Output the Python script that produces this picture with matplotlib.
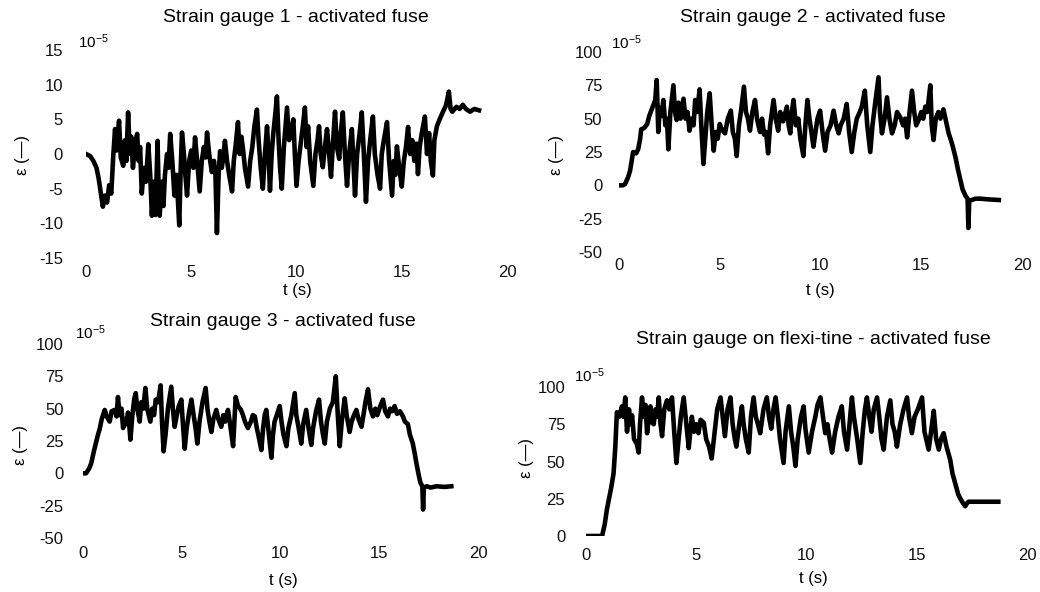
import matplotlib.pyplot as plt

plt.rcParams['font.family'] = ['Liberation Sans', 'DejaVu Sans']
plt.rcParams['axes.unicode_minus'] = False
plt.rcParams['mathtext.fontset'] = 'custom'
plt.rcParams['mathtext.rm'] = 'Liberation Sans'

# (t in s, strain in 1e-5)
gauge1 = [(0, 0), (0.2, -0.3), (0.35, -1), (0.5, -2), (0.6, -3.5), (0.7, -5.5), (0.8, -7.6),
          (0.9, -6), (1.0, -7), (1.1, -4.5), (1.2, -5.7), (1.3, 0), (1.38, 3.6), (1.45, 0.5),
          (1.57, 4.8), (1.65, -0.5), (1.77, -1.7), (1.85, 2), (1.92, -1), (2.0, 6), (2.08, 0),
          (2.15, 2.5), (2.23, -2), (2.33, 1.5), (2.43, 2.9), (2.5, -1), (2.57, 1), (2.65, -5.7),
          (2.75, -2), (2.85, -4), (2.96, 1.4), (3.05, -3), (3.13, -8.9), (3.22, -4), (3.3, -8.8),
          (3.4, 1.9), (3.45, -5), (3.5, -8.9), (3.6, -4), (3.68, -7.5), (3.75, -3), (3.85, 0),
          (3.92, -2), (4.0, 2.9), (4.1, -1), (4.2, -6), (4.3, -3), (4.43, -10.3), (4.5, -2),
          (4.56, 3.1), (4.65, 0), (4.72, -3), (4.8, -6), (4.9, -1), (5.0, 0.5), (5.1, -2),
          (5.18, 2.4), (5.28, -1), (5.4, -5.4), (5.5, -1), (5.6, 1), (5.68, -0.5), (5.75, 3.1),
          (5.85, 0), (5.98, -2.6), (6.08, -1), (6.15, -3), (6.22, -11.4), (6.3, -3), (6.37, 0.4),
          (6.45, -2), (6.52, -0.5), (6.6, 1.9), (6.7, -1), (6.8, -3), (6.94, -5.4), (7.02, -1),
          (7.1, 1), (7.22, 4.6), (7.3, 0), (7.38, 2.5), (7.46, 0.7), (7.55, -2), (7.7, -4.7),
          (7.8, -1), (7.9, 1.0), (8.0, 4), (8.12, 6.4), (8.2, 2), (8.3, -2), (8.4, -5), (8.5, 0),
          (8.6, 4), (8.67, 0), (8.74, -5.3), (8.82, 0), (8.9, 3), (9.0, 6), (9.07, 8.3), (9.15, 2),
          (9.22, -2), (9.3, -5), (9.4, 1), (9.48, 4), (9.55, 6.7), (9.65, 2), (9.75, 3), (9.85, 5),
          (9.92, 0), (10.0, -4.6), (10.1, -1), (10.2, 1.5), (10.3, 4), (10.4, 6.7), (10.48, 1),
          (10.55, 4), (10.65, -1), (10.8, -4.6), (10.9, 0), (11.0, 2), (11.07, 4), (11.15, 0),
          (11.25, -1.9), (11.35, 1), (11.45, 3.6), (11.55, 0), (11.64, -3.3), (11.72, 1),
          (11.83, 6.1), (11.92, 1), (12.03, -0.7), (12.1, 3), (12.2, 6), (12.3, 0), (12.4, -4.6),
          (12.5, 0), (12.63, 3.6), (12.7, -1), (12.78, -6), (12.88, 0), (13.0, 3), (13.1, 6),
          (13.2, 0), (13.3, -6.9), (13.4, -1), (13.5, 2), (13.63, 5.4), (13.72, 0), (13.85, -3),
          (13.97, -5), (14.05, 0), (14.15, 2), (14.3, 4.6), (14.4, -1), (14.54, -6), (14.62, -1),
          (14.7, -3), (14.77, 1.1), (14.88, -2), (15.0, -4.7), (15.1, -1), (15.2, 1), (15.3, 3.9),
          (15.4, 0), (15.5, 2), (15.6, -1), (15.7, 1.5), (15.77, -2.9), (15.85, 1), (15.95, 3),
          (16.1, 5.4), (16.2, 0), (16.3, 3), (16.38, -1), (16.48, -3.1), (16.55, 2), (16.67, 4),
          (16.8, 5), (16.96, 6.1), (17.1, 7), (17.24, 9), (17.32, 6.5), (17.4, 6.1), (17.6, 6.8),
          (17.75, 6.5), (17.9, 7.1), (18.05, 6.5), (18.24, 6.1), (18.45, 6.5), (18.67, 6.3)]

gauge2 = [(0, 0), (0.2, 0), (0.3, 1), (0.45, 6), (0.55, 11), (0.65, 20), (0.7, 25), (0.85, 24),
          (0.95, 27), (1.05, 35), (1.1, 42), (1.25, 43), (1.4, 46), (1.5, 52), (1.6, 56), (1.7, 60),
          (1.8, 64), (1.87, 79), (1.95, 40), (2.02, 58), (2.1, 52), (2.2, 64), (2.3, 45), (2.38, 50),
          (2.45, 27), (2.55, 55), (2.7, 75), (2.78, 55), (2.86, 49), (2.95, 62), (3.05, 50),
          (3.2, 65), (3.3, 50), (3.4, 55), (3.5, 41), (3.6, 50), (3.7, 45), (3.78, 64), (3.88, 55),
          (4.0, 72), (4.1, 40), (4.19, 16), (4.28, 35), (4.38, 55), (4.5, 69), (4.6, 45), (4.7, 26),
          (4.8, 40), (4.9, 35), (5.0, 46), (5.1, 42), (5.26, 39), (5.4, 50), (5.55, 56), (5.65, 40),
          (5.75, 35), (5.84, 22), (5.95, 45), (6.05, 55), (6.2, 74), (6.3, 55), (6.4, 50), (6.5, 41),
          (6.62, 55), (6.75, 64), (6.85, 50), (6.92, 45), (7.0, 40), (7.1, 50), (7.2, 38), (7.3, 40),
          (7.4, 24), (7.5, 45), (7.67, 64), (7.78, 50), (7.9, 41), (8.0, 55), (8.15, 48), (8.33, 59),
          (8.42, 45), (8.5, 39), (8.58, 55), (8.66, 64), (8.78, 45), (8.9, 50), (9.0, 35), (9.15, 22),
          (9.25, 45), (9.35, 64), (9.45, 50), (9.55, 40), (9.65, 29), (9.75, 40), (9.85, 50),
          (9.98, 56), (10.1, 40), (10.23, 26), (10.35, 40), (10.5, 45), (10.65, 56), (10.78, 45),
          (10.9, 39), (11.0, 45), (11.15, 50), (11.3, 61), (11.42, 40), (11.55, 25), (11.68, 40),
          (11.8, 50), (11.95, 55), (12.05, 59), (12.2, 71), (12.32, 45), (12.47, 25), (12.58, 45),
          (12.7, 60), (12.88, 81), (12.95, 55), (13.05, 39), (13.18, 50), (13.3, 66), (13.42, 50),
          (13.55, 39), (13.68, 45), (13.8, 55), (13.96, 51), (14.1, 45), (14.2, 50), (14.3, 36),
          (14.42, 55), (14.54, 71), (14.65, 55), (14.75, 45), (14.87, 49), (15.0, 55), (15.1, 50),
          (15.2, 59), (15.3, 55), (15.45, 75), (15.52, 45), (15.61, 34), (15.72, 50), (15.85, 55),
          (15.95, 50), (16.1, 57), (16.2, 50), (16.36, 39), (16.45, 35), (16.55, 30), (16.7, 21),
          (16.82, 12), (16.94, 4), (17.05, -3), (17.2, -8), (17.3, -10), (17.34, -32), (17.38, -12),
          (17.5, -11), (17.7, -10), (17.93, -10), (18.3, -10.5), (18.85, -11)]

gauge3 = [(0, 0), (0.15, 0), (0.2, 1), (0.32, 4), (0.42, 8), (0.55, 17), (0.68, 25), (0.76, 30),
          (0.84, 34), (0.95, 42), (1.1, 49), (1.2, 44), (1.35, 40), (1.45, 48), (1.6, 49), (1.7, 44),
          (1.77, 59), (1.85, 45), (1.95, 50), (2.03, 35), (2.12, 42), (2.2, 38), (2.28, 47),
          (2.35, 36), (2.4, 26), (2.5, 45), (2.6, 58), (2.67, 62), (2.75, 50), (2.87, 40), (2.95, 55),
          (3.05, 50), (3.16, 66), (3.25, 50), (3.33, 45), (3.41, 40), (3.5, 50), (3.6, 45), (3.68, 57),
          (3.8, 55), (3.93, 68), (4.0, 40), (4.08, 17), (4.18, 30), (4.3, 50), (4.47, 67), (4.55, 50),
          (4.64, 36), (4.75, 45), (4.85, 52), (4.98, 57), (5.05, 40), (5.15, 19), (5.25, 35),
          (5.38, 48), (5.49, 57), (5.6, 45), (5.7, 35), (5.79, 23), (5.9, 40), (6.05, 55), (6.21, 66),
          (6.3, 50), (6.4, 40), (6.5, 32), (6.6, 42), (6.75, 49), (6.85, 42), (7.0, 36), (7.1, 45),
          (7.2, 40), (7.34, 49), (7.45, 38), (7.6, 21), (7.68, 45), (7.73, 59), (7.85, 52), (8.0, 49),
          (8.1, 45), (8.2, 40), (8.35, 35), (8.5, 40), (8.6, 45), (8.7, 44), (8.8, 35), (8.9, 28),
          (9.03, 18), (9.12, 35), (9.2, 45), (9.28, 49), (9.38, 35), (9.45, 25), (9.54, 12), (9.62, 30),
          (9.7, 40), (9.79, 44), (9.96, 52), (10.05, 40), (10.15, 30), (10.3, 21), (10.4, 35),
          (10.55, 45), (10.72, 62), (10.8, 45), (10.92, 35), (11.05, 23), (11.15, 38), (11.3, 49),
          (11.42, 35), (11.56, 22), (11.65, 35), (11.8, 48), (11.95, 57), (12.05, 40), (12.15, 30),
          (12.24, 23), (12.35, 40), (12.5, 50), (12.65, 55), (12.8, 75), (12.9, 45), (13.0, 21),
          (13.1, 40), (13.25, 58), (13.35, 45), (13.5, 32), (13.6, 40), (13.72, 45), (13.84, 49),
          (13.95, 42), (14.1, 36), (14.2, 45), (14.3, 55), (14.43, 65), (14.55, 50), (14.68, 44),
          (14.8, 50), (14.9, 45), (15.05, 52), (15.19, 57), (15.3, 48), (15.44, 44), (15.55, 50),
          (15.65, 48), (15.78, 52), (15.9, 46), (16.05, 48), (16.2, 44), (16.3, 40), (16.45, 38),
          (16.55, 30), (16.7, 23), (16.8, 15), (16.88, 8), (16.98, 0), (17.08, -7), (17.18, -10),
          (17.22, -28), (17.26, -11), (17.4, -10), (17.6, -11), (17.9, -10), (18.3, -10.5), (18.65, -10)]

flexi = [(0, 0), (0.73, 0), (0.85, 8), (0.95, 18), (1.03, 24), (1.15, 33), (1.25, 42), (1.33, 60),
         (1.4, 83), (1.5, 80), (1.63, 87), (1.7, 80), (1.78, 93), (1.86, 70), (1.95, 85), (2.02, 75),
         (2.09, 81), (2.18, 65), (2.3, 62), (2.39, 56), (2.45, 75), (2.54, 93), (2.62, 80), (2.7, 88),
         (2.77, 69), (2.85, 80), (2.92, 87), (3.0, 76), (3.07, 75), (3.15, 85), (3.22, 80), (3.3, 93),
         (3.38, 75), (3.45, 67), (3.55, 85), (3.67, 91), (3.78, 85), (3.9, 93), (4.0, 70), (4.1, 49),
         (4.2, 65), (4.3, 80), (4.43, 93), (4.55, 75), (4.66, 59), (4.73, 70), (4.8, 80), (4.9, 70),
         (5.0, 75), (5.1, 69), (5.2, 78), (5.34, 76), (5.45, 65), (5.58, 60), (5.7, 52), (5.8, 65),
         (5.95, 85), (6.1, 93), (6.2, 80), (6.3, 67), (6.42, 85), (6.55, 93), (6.65, 75), (6.75, 65),
         (6.82, 60), (6.95, 75), (7.07, 87), (7.15, 75), (7.25, 65), (7.38, 56), (7.48, 80), (7.6, 93),
         (7.7, 80), (7.8, 75), (7.9, 69), (8.05, 85), (8.2, 93), (8.3, 80), (8.4, 72), (8.5, 85),
         (8.6, 93), (8.7, 80), (8.8, 65), (8.96, 49), (9.05, 70), (9.2, 87), (9.3, 70), (9.4, 60),
         (9.5, 47), (9.6, 65), (9.75, 80), (9.87, 87), (9.95, 72), (10.1, 56), (10.25, 70), (10.4, 80),
         (10.5, 88), (10.63, 93), (10.75, 80), (10.85, 69), (10.95, 75), (11.05, 65), (11.16, 56),
         (11.3, 70), (11.45, 80), (11.6, 87), (11.7, 70), (11.84, 58), (11.95, 75), (12.06, 93),
         (12.15, 80), (12.3, 65), (12.44, 49), (12.55, 70), (12.65, 85), (12.74, 93), (12.85, 80),
         (12.95, 70), (13.05, 85), (13.2, 93), (13.3, 80), (13.4, 65), (13.5, 58), (13.65, 80),
         (13.8, 91), (13.9, 75), (14.0, 70), (14.1, 60), (14.25, 75), (14.4, 85), (14.56, 93),
         (14.65, 80), (14.78, 69), (14.9, 80), (15.05, 85), (15.24, 93), (15.35, 70), (15.54, 58),
         (15.65, 70), (15.77, 84), (15.88, 65), (16.0, 58), (16.1, 65), (16.22, 69), (16.35, 60),
         (16.52, 51), (16.62, 42), (16.75, 35), (16.88, 28), (16.98, 25), (17.1, 22), (17.2, 20),
         (17.28, 22), (17.35, 23), (17.6, 23), (18.0, 23), (18.7, 23)]

titles = ['Strain gauge 1 - activated fuse', 'Strain gauge 2 - activated fuse',
          'Strain gauge 3 - activated fuse', 'Strain gauge on flexi-tine - activated fuse']
yticks_list = [[-15, -10, -5, 0, 5, 10, 15],
               [-50, -25, 0, 25, 50, 75, 100],
               [-50, -25, 0, 25, 50, 75, 100],
               [0, 25, 50, 75, 100]]
xticks = [0, 5, 10, 15, 20]

W, H = 1040, 592
fig = plt.figure(figsize=(W / 100, H / 100), dpi=100)

# layout in pixels: axes box (x0, x1, ytop, ybottom), title, xlabel, ylabel, 10^-5 positions, pads
layout = [
    dict(box=(86, 507, 50, 258), title=(296, 18), xl=(297, 291), yl=(22, 155), exp=(78, 42), ypad=16.5, xpad=5),
    dict(box=(619, 1022, 52, 252), title=(813, 18), xl=(820, 290), yl=(556, 155), exp=(611, 43), ypad=12, xpad=4),
    dict(box=(83, 478, 344, 538), title=(283, 321), xl=(283, 580), yl=(20, 445), exp=(75, 333), ypad=14, xpad=6),
    dict(box=(586, 1027, 387, 536), title=(813, 339), xl=(813, 578), yl=(526, 458), exp=(574, 376), ypad=15, xpad=9),
]
series = [gauge1, gauge2, gauge3, flexi]

for pts, title, yt, L in zip(series, titles, yticks_list, layout):
    t, v = zip(*pts)
    x0, x1, yt0, yb = L['box']
    ax = fig.add_axes([x0 / W, 1 - yb / H, (x1 - x0) / W, (yb - yt0) / H])
    ax.plot(t, v, color='black', linewidth=3.3)
    ax.set_xlim(0, 20)
    ax.set_ylim(yt[0], yt[-1])
    ax.set_xticks(xticks)
    ax.set_yticks(yt)
    for s in ax.spines.values():
        s.set_visible(False)
    ax.tick_params(axis='y', length=0, pad=L['ypad'], labelsize=12, labelcolor='#111111')
    ax.tick_params(axis='x', length=0, pad=L['xpad'], labelsize=12, labelcolor='#111111')
    ax.set_facecolor('none')

    fig.text(L['title'][0] / W, 1 - L['title'][1] / H, title, ha='center', va='center', fontsize=14)
    fig.text(L['xl'][0] / W, 1 - L['xl'][1] / H, 't (s)', ha='center', va='center', fontsize=12)
    fig.text(L['yl'][0] / W, 1 - L['yl'][1] / H, 'ε (—)', ha='center', va='center', fontsize=12, rotation=90)
    fig.text(L['exp'][0] / W, 1 - L['exp'][1] / H, r'$\mathregular{10^{-5}}$', ha='left', va='center', fontsize=11)

fig.savefig('out.png', dpi=100, facecolor='white')
